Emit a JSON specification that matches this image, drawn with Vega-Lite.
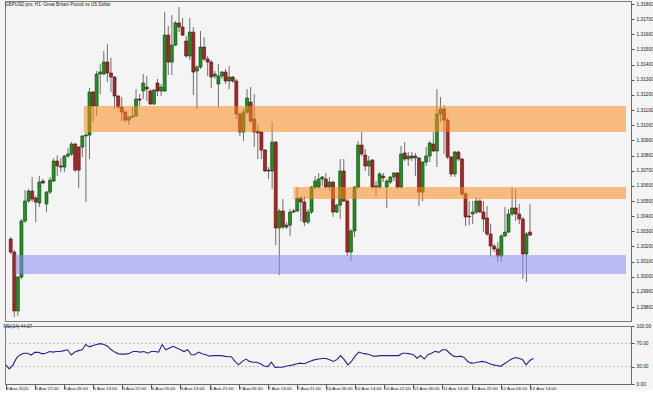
{
"$schema": "https://vega.github.io/schema/vega-lite/v6.json",
"background": "#F4F4F4",
"padding": {"left": 2, "top": 0, "right": 0, "bottom": 0},
"autosize": {"type": "pad"},
"spacing": 0,
"config": {
  "font": "Liberation Sans",
  "view": {"stroke": "#7a7a7a", "strokeWidth": 1},
  "axis": {"labelFont": "Liberation Sans", "labelFontSize": 4.8, "labelColor": "#222222", "tickColor": "#555555", "domainColor": "#6a6a6a", "grid": false, "title": null, "labelOverlap": false},
  "title": {"font": "Liberation Sans", "fontSize": 4.6, "fontWeight": "normal", "color": "#222222", "anchor": "start"}
},
"datasets": {
  "candles": [
{"i":0,"o":1.30249,"h":1.30262,"l":1.30150,"c":1.30163,"r":33},
{"i":1,"o":1.30163,"h":1.30177,"l":1.29734,"c":1.29774,"r":26},
{"i":2,"o":1.29774,"h":1.30005,"l":1.29741,"c":1.29998,"r":33},
{"i":3,"o":1.29998,"h":1.30381,"l":1.29985,"c":1.30368,"r":45},
{"i":4,"o":1.30368,"h":1.30572,"l":1.30355,"c":1.30500,"r":50.5},
{"i":5,"o":1.30500,"h":1.30579,"l":1.30487,"c":1.30566,"r":53},
{"i":6,"o":1.30566,"h":1.30658,"l":1.30493,"c":1.30513,"r":53},
{"i":7,"o":1.30520,"h":1.30533,"l":1.30361,"c":1.30493,"r":50},
{"i":8,"o":1.30487,"h":1.30665,"l":1.30460,"c":1.30625,"r":54.6},
{"i":9,"o":1.30632,"h":1.30645,"l":1.30612,"c":1.30619,"r":54.6},
{"i":10,"o":1.30480,"h":1.30566,"l":1.30427,"c":1.30559,"r":52},
{"i":11,"o":1.30559,"h":1.30658,"l":1.30546,"c":1.30638,"r":53},
{"i":12,"o":1.30632,"h":1.30784,"l":1.30625,"c":1.30764,"r":56},
{"i":13,"o":1.30764,"h":1.30803,"l":1.30665,"c":1.30731,"r":55},
{"i":14,"o":1.30731,"h":1.30784,"l":1.30691,"c":1.30724,"r":56},
{"i":15,"o":1.30724,"h":1.30803,"l":1.30691,"c":1.30797,"r":56},
{"i":16,"o":1.30797,"h":1.30850,"l":1.30784,"c":1.30810,"r":57.5},
{"i":17,"o":1.30810,"h":1.30889,"l":1.30797,"c":1.30876,"r":59},
{"i":18,"o":1.30876,"h":1.30883,"l":1.30691,"c":1.30704,"r":50},
{"i":19,"o":1.30856,"h":1.30863,"l":1.30586,"c":1.30704,"r":55},
{"i":20,"o":1.30856,"h":1.30935,"l":1.30790,"c":1.30929,"r":57.5},
{"i":21,"o":1.30929,"h":1.30955,"l":1.30493,"c":1.30935,"r":59},
{"i":22,"o":1.30935,"h":1.31246,"l":1.30777,"c":1.31219,"r":68},
{"i":23,"o":1.31219,"h":1.31226,"l":1.31021,"c":1.31127,"r":64},
{"i":24,"o":1.31127,"h":1.31358,"l":1.31061,"c":1.31338,"r":66.5},
{"i":25,"o":1.31338,"h":1.31404,"l":1.31206,"c":1.31351,"r":68},
{"i":26,"o":1.31338,"h":1.31490,"l":1.31331,"c":1.31417,"r":69.5},
{"i":27,"o":1.31417,"h":1.31536,"l":1.31285,"c":1.31345,"r":68},
{"i":28,"o":1.31345,"h":1.31444,"l":1.31219,"c":1.31318,"r":65},
{"i":29,"o":1.31318,"h":1.31325,"l":1.31107,"c":1.31193,"r":59},
{"i":30,"o":1.31193,"h":1.31199,"l":1.31107,"c":1.31120,"r":55},
{"i":31,"o":1.31120,"h":1.31186,"l":1.31028,"c":1.31087,"r":52},
{"i":32,"o":1.31087,"h":1.31094,"l":1.31021,"c":1.31034,"r":51.5},
{"i":33,"o":1.31034,"h":1.31061,"l":1.31001,"c":1.31054,"r":51.5},
{"i":34,"o":1.31054,"h":1.31120,"l":1.31048,"c":1.31061,"r":53},
{"i":35,"o":1.31061,"h":1.31239,"l":1.31054,"c":1.31173,"r":56},
{"i":36,"o":1.31173,"h":1.31206,"l":1.31127,"c":1.31166,"r":56},
{"i":37,"o":1.31226,"h":1.31338,"l":1.31173,"c":1.31279,"r":55},
{"i":38,"o":1.31252,"h":1.31325,"l":1.31160,"c":1.31239,"r":56},
{"i":39,"o":1.31226,"h":1.31239,"l":1.31133,"c":1.31140,"r":53},
{"i":40,"o":1.31140,"h":1.31239,"l":1.31133,"c":1.31232,"r":56},
{"i":41,"o":1.31279,"h":1.31305,"l":1.31193,"c":1.31226,"r":56},
{"i":42,"o":1.31226,"h":1.31272,"l":1.31193,"c":1.31252,"r":55},
{"i":43,"o":1.31226,"h":1.31747,"l":1.31219,"c":1.31595,"r":68},
{"i":44,"o":1.31595,"h":1.31655,"l":1.31331,"c":1.31417,"r":59},
{"i":45,"o":1.31417,"h":1.31727,"l":1.31331,"c":1.31529,"r":62},
{"i":46,"o":1.31529,"h":1.31688,"l":1.31523,"c":1.31675,"r":65},
{"i":47,"o":1.31675,"h":1.31780,"l":1.31615,"c":1.31648,"r":62},
{"i":48,"o":1.31648,"h":1.31708,"l":1.31589,"c":1.31595,"r":59},
{"i":49,"o":1.31556,"h":1.31589,"l":1.31444,"c":1.31457,"r":56},
{"i":50,"o":1.31457,"h":1.31708,"l":1.31430,"c":1.31615,"r":59},
{"i":51,"o":1.31615,"h":1.31648,"l":1.31199,"c":1.31351,"r":50.5},
{"i":52,"o":1.31358,"h":1.31397,"l":1.31107,"c":1.31384,"r":50.5},
{"i":53,"o":1.31384,"h":1.31622,"l":1.31371,"c":1.31516,"r":55},
{"i":54,"o":1.31516,"h":1.31582,"l":1.31424,"c":1.31437,"r":52},
{"i":55,"o":1.31437,"h":1.31457,"l":1.31325,"c":1.31417,"r":50.5},
{"i":56,"o":1.31417,"h":1.31430,"l":1.31246,"c":1.31318,"r":48},
{"i":57,"o":1.31325,"h":1.31358,"l":1.31305,"c":1.31338,"r":49},
{"i":58,"o":1.31272,"h":1.31404,"l":1.31120,"c":1.31325,"r":49},
{"i":59,"o":1.31325,"h":1.31358,"l":1.31305,"c":1.31351,"r":49},
{"i":60,"o":1.31351,"h":1.31371,"l":1.31272,"c":1.31292,"r":48},
{"i":61,"o":1.31292,"h":1.31391,"l":1.31239,"c":1.31318,"r":47},
{"i":62,"o":1.31318,"h":1.31325,"l":1.31279,"c":1.31292,"r":47},
{"i":63,"o":1.31292,"h":1.31305,"l":1.31041,"c":1.31074,"r":39},
{"i":64,"o":1.31074,"h":1.31081,"l":1.30929,"c":1.30955,"r":33},
{"i":65,"o":1.30955,"h":1.31107,"l":1.30896,"c":1.31087,"r":39},
{"i":66,"o":1.31087,"h":1.31239,"l":1.31074,"c":1.31180,"r":43},
{"i":67,"o":1.31153,"h":1.31252,"l":1.31015,"c":1.31028,"r":39},
{"i":68,"o":1.31041,"h":1.31206,"l":1.30856,"c":1.30955,"r":37.5},
{"i":69,"o":1.30962,"h":1.31008,"l":1.30777,"c":1.30949,"r":37.5},
{"i":70,"o":1.30955,"h":1.30962,"l":1.30777,"c":1.30836,"r":35},
{"i":71,"o":1.30836,"h":1.30843,"l":1.30691,"c":1.30698,"r":31},
{"i":72,"o":1.30704,"h":1.30724,"l":1.30645,"c":1.30698,"r":30},
{"i":73,"o":1.30698,"h":1.31021,"l":1.30579,"c":1.30889,"r":37.5},
{"i":74,"o":1.30889,"h":1.30896,"l":1.30209,"c":1.30322,"r":28.7},
{"i":75,"o":1.30322,"h":1.30447,"l":1.30011,"c":1.30434,"r":29},
{"i":76,"o":1.30434,"h":1.30513,"l":1.30315,"c":1.30328,"r":29},
{"i":77,"o":1.30328,"h":1.30361,"l":1.30315,"c":1.30341,"r":30.5},
{"i":78,"o":1.30341,"h":1.30447,"l":1.30269,"c":1.30427,"r":32},
{"i":79,"o":1.30434,"h":1.30447,"l":1.30421,"c":1.30427,"r":33},
{"i":80,"o":1.30434,"h":1.30592,"l":1.30427,"c":1.30520,"r":35},
{"i":81,"o":1.30520,"h":1.30533,"l":1.30368,"c":1.30493,"r":36},
{"i":82,"o":1.30493,"h":1.30533,"l":1.30335,"c":1.30361,"r":35},
{"i":83,"o":1.30361,"h":1.30447,"l":1.30348,"c":1.30427,"r":37.5},
{"i":84,"o":1.30427,"h":1.30599,"l":1.30414,"c":1.30592,"r":40},
{"i":85,"o":1.30592,"h":1.30665,"l":1.30579,"c":1.30632,"r":42},
{"i":86,"o":1.30592,"h":1.30685,"l":1.30579,"c":1.30645,"r":43},
{"i":87,"o":1.30645,"h":1.30665,"l":1.30599,"c":1.30658,"r":44},
{"i":88,"o":1.30645,"h":1.30685,"l":1.30579,"c":1.30592,"r":44},
{"i":89,"o":1.30592,"h":1.30658,"l":1.30566,"c":1.30625,"r":42},
{"i":90,"o":1.30625,"h":1.30632,"l":1.30395,"c":1.30427,"r":39},
{"i":91,"o":1.30427,"h":1.30480,"l":1.30421,"c":1.30473,"r":42},
{"i":92,"o":1.30473,"h":1.30777,"l":1.30381,"c":1.30698,"r":49},
{"i":93,"o":1.30698,"h":1.30777,"l":1.30493,"c":1.30500,"r":42},
{"i":94,"o":1.30500,"h":1.30513,"l":1.30137,"c":1.30163,"r":33},
{"i":95,"o":1.30163,"h":1.30315,"l":1.30104,"c":1.30302,"r":39},
{"i":96,"o":1.30302,"h":1.30599,"l":1.30262,"c":1.30592,"r":48},
{"i":97,"o":1.30592,"h":1.30896,"l":1.30579,"c":1.30869,"r":55},
{"i":98,"o":1.30869,"h":1.30955,"l":1.30797,"c":1.30810,"r":53},
{"i":99,"o":1.30803,"h":1.30843,"l":1.30698,"c":1.30731,"r":52},
{"i":100,"o":1.30731,"h":1.30797,"l":1.30665,"c":1.30764,"r":50.5},
{"i":101,"o":1.30770,"h":1.30777,"l":1.30579,"c":1.30592,"r":48},
{"i":102,"o":1.30599,"h":1.30632,"l":1.30533,"c":1.30592,"r":48},
{"i":103,"o":1.30592,"h":1.30691,"l":1.30579,"c":1.30678,"r":49},
{"i":104,"o":1.30665,"h":1.30685,"l":1.30625,"c":1.30652,"r":49},
{"i":105,"o":1.30592,"h":1.30645,"l":1.30454,"c":1.30632,"r":49},
{"i":106,"o":1.30625,"h":1.30665,"l":1.30612,"c":1.30658,"r":49},
{"i":107,"o":1.30658,"h":1.30691,"l":1.30632,"c":1.30685,"r":49},
{"i":108,"o":1.30685,"h":1.30691,"l":1.30579,"c":1.30592,"r":49},
{"i":109,"o":1.30592,"h":1.30863,"l":1.30579,"c":1.30810,"r":53},
{"i":110,"o":1.30817,"h":1.30889,"l":1.30764,"c":1.30777,"r":53},
{"i":111,"o":1.30777,"h":1.30823,"l":1.30731,"c":1.30797,"r":52},
{"i":112,"o":1.30797,"h":1.30823,"l":1.30764,"c":1.30784,"r":50.5},
{"i":113,"o":1.30784,"h":1.30817,"l":1.30665,"c":1.30797,"r":44.5},
{"i":114,"o":1.30784,"h":1.30790,"l":1.30467,"c":1.30559,"r":49},
{"i":115,"o":1.30559,"h":1.30764,"l":1.30500,"c":1.30757,"r":43},
{"i":116,"o":1.30757,"h":1.30856,"l":1.30731,"c":1.30797,"r":50.5},
{"i":117,"o":1.30797,"h":1.30896,"l":1.30757,"c":1.30883,"r":53},
{"i":118,"o":1.30876,"h":1.30955,"l":1.30823,"c":1.30830,"r":56.5},
{"i":119,"o":1.30830,"h":1.31239,"l":1.30724,"c":1.31074,"r":54.5},
{"i":120,"o":1.31074,"h":1.31186,"l":1.31021,"c":1.31107,"r":59},
{"i":121,"o":1.31107,"h":1.31133,"l":1.30810,"c":1.31034,"r":59},
{"i":122,"o":1.31034,"h":1.31048,"l":1.30777,"c":1.30790,"r":53},
{"i":123,"o":1.30790,"h":1.30797,"l":1.30658,"c":1.30678,"r":48},
{"i":124,"o":1.30678,"h":1.30830,"l":1.30658,"c":1.30823,"r":47},
{"i":125,"o":1.30823,"h":1.30830,"l":1.30764,"c":1.30777,"r":48},
{"i":126,"o":1.30777,"h":1.30784,"l":1.30533,"c":1.30546,"r":45.5},
{"i":127,"o":1.30546,"h":1.30559,"l":1.30335,"c":1.30395,"r":38.5},
{"i":128,"o":1.30401,"h":1.30500,"l":1.30341,"c":1.30395,"r":36},
{"i":129,"o":1.30414,"h":1.30500,"l":1.30348,"c":1.30427,"r":36.5},
{"i":130,"o":1.30427,"h":1.30526,"l":1.30414,"c":1.30500,"r":38},
{"i":131,"o":1.30500,"h":1.30513,"l":1.30421,"c":1.30427,"r":39},
{"i":132,"o":1.30427,"h":1.30500,"l":1.30295,"c":1.30381,"r":37.5},
{"i":133,"o":1.30388,"h":1.30467,"l":1.30269,"c":1.30282,"r":35},
{"i":134,"o":1.30282,"h":1.30348,"l":1.30130,"c":1.30203,"r":33},
{"i":135,"o":1.30203,"h":1.30216,"l":1.30163,"c":1.30183,"r":32},
{"i":136,"o":1.30183,"h":1.30229,"l":1.30097,"c":1.30137,"r":30.5},
{"i":137,"o":1.30137,"h":1.30282,"l":1.30097,"c":1.30269,"r":35},
{"i":138,"o":1.30269,"h":1.30460,"l":1.30262,"c":1.30295,"r":39},
{"i":139,"o":1.30295,"h":1.30447,"l":1.30289,"c":1.30414,"r":43},
{"i":140,"o":1.30414,"h":1.30592,"l":1.30401,"c":1.30454,"r":45.5},
{"i":141,"o":1.30454,"h":1.30579,"l":1.30368,"c":1.30414,"r":44.5},
{"i":142,"o":1.30414,"h":1.30480,"l":1.30348,"c":1.30381,"r":42},
{"i":143,"o":1.30381,"h":1.30395,"l":1.29985,"c":1.30150,"r":33},
{"i":144,"o":1.30150,"h":1.30295,"l":1.29965,"c":1.30282,"r":40.5},
{"i":145,"o":1.30295,"h":1.30480,"l":1.30269,"c":1.30275,"r":44}
  ],
  "zones": [
    {"x1": 20.4, "x2": 171.8, "top": 1.31127, "bottom": 1.30955, "color": "orange"},
    {"x1": 79.0, "x2": 171.8, "top": 1.30592, "bottom": 1.30513, "color": "orange"},
    {"x1": 1.3, "x2": 171.8, "top": 1.30143, "bottom": 1.30018, "color": "blue"}
  ],
  "levels": [{"lvl": 30}, {"lvl": 70}]
},
"vconcat": [
  {
    "width": 626,
    "height": 320,
    "title": {"text": "GBPUSD.pro, H1:  Great Britain Pound vs US Dollar", "offset": -6, "baseline": "top"},
    "layer": [
      {
        "data": {"name": "candles"},
        "mark": {"type": "rule", "color": "#6e6e6e", "strokeWidth": 1},
        "encoding": {
          "x": {"field": "i", "type": "quantitative", "scale": {"domain": [-0.19, 171.8], "nice": false, "zero": false}, "axis": null},
          "y": {"field": "l", "type": "quantitative", "scale": {"domain": [1.29708, 1.3182], "nice": false, "zero": false},
                "axis": {"orient": "right", "values": [1.298,1.299,1.300,1.301,1.302,1.303,1.304,1.305,1.306,1.307,1.308,1.309,1.310,1.311,1.312,1.313,1.314,1.315,1.316,1.317,1.318], "tickCount": 100, "format": ".5f", "tickSize": 3, "labelPadding": 2, "labelOverlap": false}},
          "y2": {"field": "h"}
        }
      },
      {
        "data": {"name": "candles"},
        "mark": {"type": "bar", "size": 3, "strokeWidth": 0.6},
        "encoding": {
          "x": {"field": "i", "type": "quantitative", "axis": null},
          "y": {"field": "o", "type": "quantitative"},
          "y2": {"field": "c"},
          "fill": {"condition": {"test": "datum.c >= datum.o", "value": "#1f921f"}, "value": "#a82626"},
          "stroke": {"condition": {"test": "datum.c >= datum.o", "value": "#0b3d0b"}, "value": "#4a0e0e"}
        }
      },
      {
        "data": {"name": "zones"},
        "mark": {"type": "rect", "opacity": 0.55, "clip": true},
        "encoding": {
          "x": {"field": "x1", "type": "quantitative", "axis": null},
          "x2": {"field": "x2"},
          "y": {"field": "top", "type": "quantitative"},
          "y2": {"field": "bottom"},
          "fill": {"field": "color", "type": "nominal", "scale": {"domain": ["orange", "blue"], "range": ["#F98C1F", "#8C8CF6"]}, "legend": null}
        }
      }
    ]
  },
  {
    "width": 626,
    "height": 58,
    "title": {"text": "RSI(14) 44.07", "offset": -6, "baseline": "top"},
    "layer": [
      {
        "data": {"name": "levels"},
        "mark": {"type": "rule", "color": "#b0b0b0", "strokeWidth": 0.8, "strokeDash": [2, 2]},
        "encoding": {
          "y": {"field": "lvl", "type": "quantitative", "scale": {"domain": [0, 100], "nice": false}, "axis": {"orient": "right", "values": [0, 30, 70, 100], "tickCount": 100, "format": ".2f", "tickSize": 3, "labelPadding": 2, "labelOverlap": false}}
        }
      },
      {
        "data": {"name": "candles"},
        "mark": {"type": "line", "color": "#24248c", "strokeWidth": 1.1},
        "encoding": {
          "x": {"field": "i", "type": "quantitative", "scale": {"domain": [-0.19, 171.8], "nice": false, "zero": false},
                "axis": {"orient": "bottom", "values": [0,8,16,24,32,40,48,56,64,72,80,88,96,104,112,120,128,136,144], "tickCount": 100, "labelExpr": "['4 Aug 2020','4 Aug 21:00','5 Aug 05:00','5 Aug 13:00','5 Aug 21:00','6 Aug 05:00','6 Aug 13:00','6 Aug 21:00','7 Aug 05:00','7 Aug 13:00','7 Aug 21:00','10 Aug 06:00','10 Aug 14:00','10 Aug 22:00','11 Aug 06:00','11 Aug 14:00','11 Aug 22:00','12 Aug 06:00','12 Aug 14:00'][round(datum.value/8)]", "labelAlign": "left", "labelBaseline": "top", "labelDx": 2, "tickSize": 5, "labelPadding": -3, "labelFontSize": 4.4, "labelFlush": false, "labelOverlap": false}},
          "y": {"field": "r", "type": "quantitative"}
        }
      }
    ]
  }
]
}
